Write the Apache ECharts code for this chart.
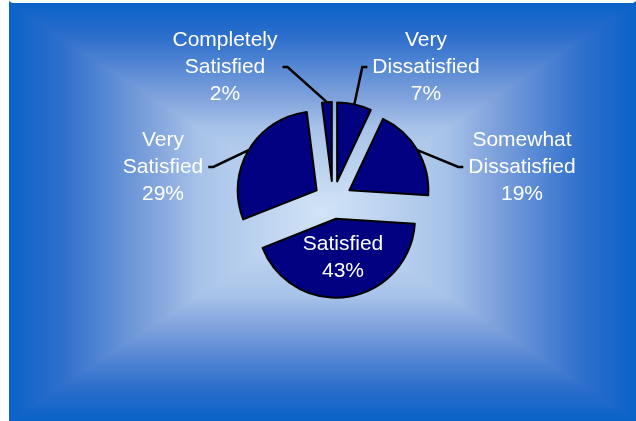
<!DOCTYPE html>
<html lang="en">
<head>
<meta charset="UTF-8">
<script src="https://cdn.jsdelivr.net/npm/echarts@6/dist/echarts.min.js"></script>
<title>Satisfaction</title>
<style>
    html, body { margin: 0; padding: 0; background: #fff; }
    #chart { width: 636px; height: 421px; }
</style>
</head>
<body>
<div id="chart"></div>
<script>
// data, clockwise from 12 o'clock
const categories = ['Very\nDissatisfied', 'Somewhat\nDissatisfied', 'Satisfied', 'Very\nSatisfied', 'Completely\nSatisfied'];
const shares = [7, 19, 43, 29, 2];

// where each label block sits (centre, px), same order as categories
const labelPos = [[426, 67], [522, 167], [343, 258], [163, 167], [225, 67]];

const chart = echarts.init(document.getElementById('chart'));

// "from centre" background: four triangles fading from the edges to the middle
const L = 9, T = 3, R = 636, B = 421;
const cx = (L + R) / 2, cy = (T + B) / 2;
function grad(x, y, x2, y2) {
    return new echarts.graphic.LinearGradient(x, y, x2, y2, [
        { offset: 0, color: '#0a62c8' },
        { offset: 0.17, color: '#2f6fcc' },
        { offset: 0.45, color: '#7fa2dc' },
        { offset: 0.6, color: '#a8c3e9' },
        { offset: 1, color: '#d2e4f6' }
    ]);
}
function tri(points, g) {
    return { type: 'polygon', shape: { points: points }, style: { fill: g }, silent: true, z: -10 };
}

// every slice is pulled out from the centre, so each one is its own pie
const PULL = 19, CX = 333, CY = 200;
const total = shares.reduce(function (a, b) { return a + b; }, 0);
let acc = 0;
const series = shares.map(function (v, i) {
    const mid = (acc + v / 2) / total * 2 * Math.PI;
    acc += v;
    return {
        type: 'pie',
        center: [CX + PULL * Math.sin(mid), CY - PULL * Math.cos(mid)],
        radius: 79,
        startAngle: 90,
        clockwise: true,
        avoidLabelOverlap: false,
        silent: true,
        label: {
            show: true,
            position: 'outside',
            formatter: '{b}\n{c}%',
            color: '#fff',
            fontFamily: '"Liberation Sans", Arial, sans-serif',
            fontSize: 21,
            lineHeight: 27,
            align: 'center',
            padding: [0, 5]
        },
        labelLine: { show: i !== 2, length: 10, length2: 5, lineStyle: { color: '#000', width: 2.5 } },
        labelLayout: function () {
            return { x: labelPos[i][0], y: labelPos[i][1], align: 'center', verticalAlign: 'middle' };
        },
        data: categories.map(function (name, j) {
            if (j === i) {
                return { name: name, value: shares[j], itemStyle: { color: '#000080', borderColor: '#000', borderWidth: 2 } };
            }
            return {
                name: name, value: shares[j],
                itemStyle: { color: 'transparent', borderWidth: 0 },
                label: { show: false }, labelLine: { show: false }
            };
        })
    };
});

const option = {
    animation: false,
    graphic: [
        tri([[L, T - 2], [L, B + 2], [cx + 3, cy]], grad(0, 0, 1, 0)),
        tri([[R, T - 2], [R, B + 2], [cx - 3, cy]], grad(1, 0, 0, 0)),
        tri([[L, T], [R, T], [cx, cy]], grad(0, 0, 0, 1)),
        tri([[L, B], [R, B], [cx, cy]], grad(0, 1, 0, 0))
    ],
    series: series
};

chart.setOption(option);
</script>
</body>
</html>
